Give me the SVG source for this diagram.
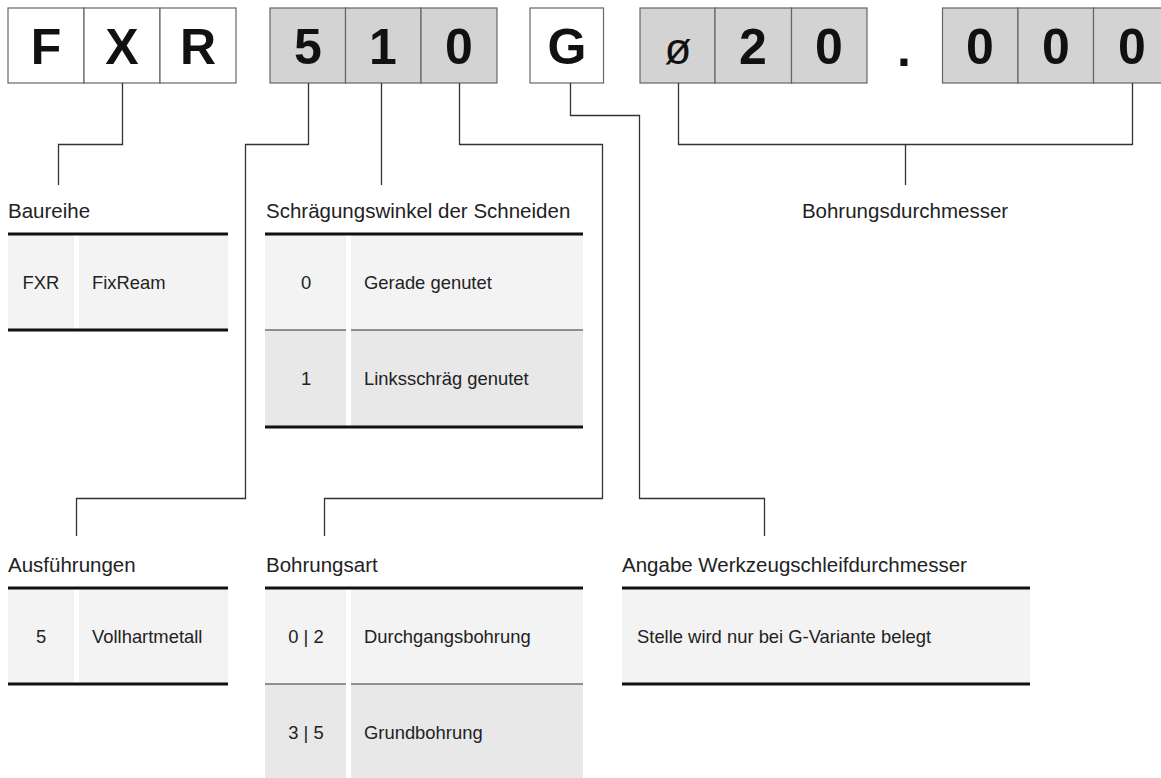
<svg xmlns="http://www.w3.org/2000/svg" width="1161" height="778" viewBox="0 0 1161 778">
<style>
.cell{stroke:#666;stroke-width:1.2}
.w{fill:#fff}
.g{fill:#d3d3d3}
.code{font-family:"Liberation Sans",Arial,sans-serif;font-weight:bold;font-size:50px;fill:#111;text-anchor:middle}
.dia{font-family:"Liberation Sans",Arial,sans-serif;font-size:44px;fill:#111;text-anchor:middle}
.title{font-family:"Liberation Sans",Arial,sans-serif;font-size:20.5px;fill:#222}
.t{font-family:"Liberation Sans",Arial,sans-serif;font-size:18.4px;fill:#222}
.c{text-anchor:middle}
.r1{fill:#f3f3f3}
.r2{fill:#e8e8e8}
.thick{stroke:#111;stroke-width:3}
.thin{stroke:#333;stroke-width:1.2}
.gap{fill:#fff}
.conn{fill:none;stroke:#333;stroke-width:1.3}
</style>

<g id="code-FXR">
<rect class="cell w" x="8" y="8" width="76" height="75"/>
<rect class="cell w" x="84" y="8" width="76" height="75"/>
<rect class="cell w" x="160" y="8" width="76" height="75"/>
<text class="code" x="46" y="64">F</text>
<text class="code" x="122" y="64">X</text>
<text class="code" x="198" y="64">R</text>
</g>

<g id="code-510">
<rect class="cell g" x="270" y="8" width="75.5" height="75"/>
<rect class="cell g" x="345.5" y="8" width="75.5" height="75"/>
<rect class="cell g" x="421" y="8" width="76" height="75"/>
<text class="code" x="308" y="64">5</text>
<text class="code" x="383" y="64">1</text>
<text class="code" x="459" y="64">0</text>
</g>

<g id="code-G">
<rect class="cell w" x="530" y="8" width="73.5" height="75"/>
<text class="code" x="567" y="64">G</text>
</g>

<g id="code-d20">
<rect class="cell g" x="640" y="8" width="75" height="75"/>
<rect class="cell g" x="715" y="8" width="76.5" height="75"/>
<rect class="cell g" x="791.5" y="8" width="75.5" height="75"/>
<text class="dia" x="678" y="64">ø</text>
<text class="code" x="753" y="64">2</text>
<text class="code" x="829" y="64">0</text>
</g>

<g id="code-dot">
<text class="code" x="904" y="66">.</text>
</g>

<g id="code-000">
<rect class="cell g" x="942.5" y="8" width="75.5" height="75"/>
<rect class="cell g" x="1018" y="8" width="75.5" height="75"/>
<rect class="cell g" x="1093.5" y="8" width="76" height="75"/>
<text class="code" x="980" y="64">0</text>
<text class="code" x="1056" y="64">0</text>
<text class="code" x="1132" y="64">0</text>
</g>

<g id="connectors">
<polyline class="conn" points="122.5,83 122.5,144.5 58.5,144.5 58.5,185"/>
<polyline class="conn" points="308.5,83 308.5,144.5 245.5,144.5 245.5,498.5 76.5,498.5 76.5,536"/>
<polyline class="conn" points="381.5,83 381.5,185"/>
<polyline class="conn" points="459.5,83 459.5,144.5 602.5,144.5 602.5,498.5 324.5,498.5 324.5,536"/>
<polyline class="conn" points="570.5,83 570.5,115.5 639.5,115.5 639.5,498.5 764.5,498.5 764.5,536"/>
<polyline class="conn" points="678.5,83 678.5,144.5 1132.5,144.5 1132.5,83"/>
<polyline class="conn" points="905.5,144.5 905.5,185"/>
</g>

<g id="baureihe">
<text class="title" x="8" y="218">Baureihe</text>
<rect class="r1" x="8" y="234" width="220" height="96"/>
<rect class="gap" x="74" y="234" width="5" height="96"/>
<line class="thick" x1="8" y1="234" x2="228" y2="234"/>
<line class="thick" x1="8" y1="330" x2="228" y2="330"/>
<text class="t c" x="41" y="289">FXR</text>
<text class="t" x="92" y="289">FixReam</text>
</g>

<g id="schraegungswinkel">
<text class="title" x="266" y="218">Schrägungswinkel der Schneiden</text>
<rect class="r1" x="265" y="234" width="318" height="96"/>
<rect class="r2" x="265" y="330" width="318" height="97"/>
<rect class="gap" x="346" y="234" width="5" height="193"/>
<line class="thin" x1="265" y1="330" x2="346" y2="330"/>
<line class="thin" x1="351" y1="330" x2="583" y2="330"/>
<line class="thick" x1="265" y1="234" x2="583" y2="234"/>
<line class="thick" x1="265" y1="427" x2="583" y2="427"/>
<text class="t c" x="306" y="289">0</text>
<text class="t" x="364" y="289">Gerade genutet</text>
<text class="t c" x="306" y="385">1</text>
<text class="t" x="364" y="385">Linksschräg genutet</text>
</g>

<g id="bohrungsdurchmesser">
<text class="title c" x="905" y="218">Bohrungsdurchmesser</text>
</g>

<g id="ausfuehrungen">
<text class="title" x="8" y="572">Ausführungen</text>
<rect class="r1" x="8" y="588" width="220" height="96"/>
<rect class="gap" x="74" y="588" width="5" height="96"/>
<line class="thick" x1="8" y1="588" x2="228" y2="588"/>
<line class="thick" x1="8" y1="684" x2="228" y2="684"/>
<text class="t c" x="41" y="643">5</text>
<text class="t" x="92" y="643">Vollhartmetall</text>
</g>

<g id="bohrungsart">
<text class="title" x="266" y="572">Bohrungsart</text>
<rect class="r1" x="265" y="588" width="318" height="96"/>
<rect class="r2" x="265" y="684" width="318" height="96"/>
<rect class="gap" x="346" y="588" width="5" height="192"/>
<line class="thin" x1="265" y1="684" x2="346" y2="684"/>
<line class="thin" x1="351" y1="684" x2="583" y2="684"/>
<line class="thick" x1="265" y1="588" x2="583" y2="588"/>
<text class="t c" x="306" y="643">0 | 2</text>
<text class="t" x="364" y="643">Durchgangsbohrung</text>
<text class="t c" x="306" y="739">3 | 5</text>
<text class="t" x="364" y="739">Grundbohrung</text>
</g>

<g id="angabe">
<text class="title" x="622" y="572">Angabe Werkzeugschleifdurchmesser</text>
<rect class="r1" x="622" y="588" width="408" height="96"/>
<line class="thick" x1="622" y1="588" x2="1030" y2="588"/>
<line class="thick" x1="622" y1="684" x2="1030" y2="684"/>
<text class="t" x="637" y="643">Stelle wird nur bei G-Variante belegt</text>
</g>
</svg>
